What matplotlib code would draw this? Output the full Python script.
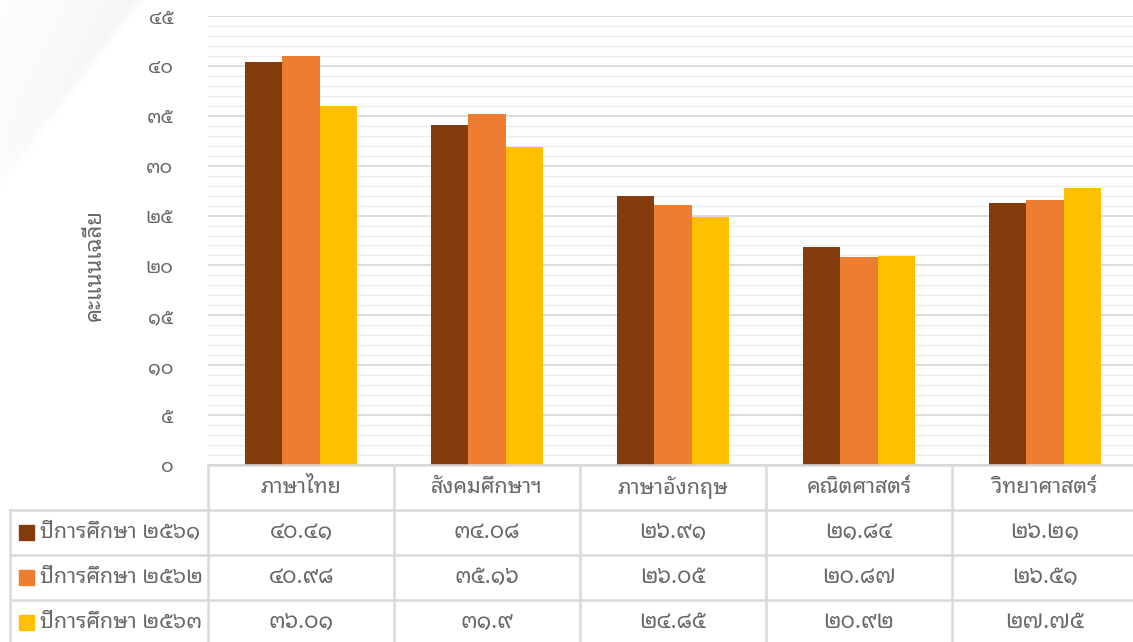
import numpy as np
import matplotlib
matplotlib.use("Agg")
import matplotlib.pyplot as plt
from matplotlib import font_manager
from matplotlib.ft2font import FT2Font

# Data
subjects = ["ภาษาไทย", "สังคมศึกษาฯ", "ภาษาอังกฤษ", "คณิตศาสตร์", "วิทยาศาสตร์"]
years = ["ปีการศึกษา ๒๕๖๑", "ปีการศึกษา ๒๕๖๒", "ปีการศึกษา ๒๕๖๓"]
y2561 = [40.41, 34.08, 26.91, 21.84, 26.21]
y2562 = [40.98, 35.16, 26.05, 20.87, 26.51]
y2563 = [36.01, 31.9, 24.85, 20.92, 27.75]
series = [y2561, y2562, y2563]
colors = ["#843C0C", "#ED7D31", "#FFC000"]
ylabel = "คะแนนเฉลี่ย"

THAI_DIGITS = str.maketrans("0123456789", "๐๑๒๓๔๕๖๗๘๙")


def thai_num(v):
    return f"{v:g}".translate(THAI_DIGITS)


# find an installed font that can draw Thai
def find_thai_family():
    found = []
    for f in font_manager.fontManager.ttflist:
        try:
            cm = FT2Font(f.fname).get_charmap()
        except Exception:
            continue
        if 0x0E01 in cm and 0x0E51 in cm:
            found.append(f.name)
    if not found:
        return []
    pref = ["Noto Sans Thai Looped", "Noto Sans Thai", "Loma", "Garuda", "Tlwg"]
    for p in pref:
        for n in found:
            if n.startswith(p):
                return [n]
    return [found[0]]


plt.rcParams["font.family"] = find_thai_family() + ["DejaVu Sans"]
plt.rcParams["font.weight"] = "light"
TXT = "#686868"
GRID = "#d9d9d9"

W, H = 1133, 642
fig = plt.figure(figsize=(W / 100, H / 100), dpi=100)
fig.patch.set_facecolor("white")

# decorative soft page shadow in the top-left corner (drawn first, behind all)
bg = fig.add_axes([0, 0, 1, 1])
bg.axis("off")
yy, xx = np.mgrid[0:220, 0:200].astype(float)
s = xx / 145 + yy / 190 - 1
dist = -s * 114
shade = np.where(dist > 0, 0.045 * np.exp(-dist / 60) * np.clip(dist / 10, 0, 1), 0)
shade *= np.clip(1 - yy / 200, 0, 1) ** 0.5
img = np.repeat((1 - shade)[..., None], 3, axis=2)
bg.imshow(img, extent=[0, 200, 220, 0], interpolation="bilinear", zorder=0)
bg.set_xlim(0, W)
bg.set_ylim(H, 0)

# main plot area (pixel layout)
x0, ybase, ytop = 208, 465, 16
colw = 186
ax = fig.add_axes([x0 / W, (H - ybase) / H, colw * 5 / W, (ybase - ytop) / H])
ax.set_facecolor("none")
n = len(subjects)
x = np.arange(n)
bw = 0.2
for i, (vals, c) in enumerate(zip(series, colors)):
    ax.bar(x + (i - 1) * bw, vals, width=bw, color=c, zorder=3, label=years[i])

ax.set_xlim(-0.5, n - 0.5)
ax.set_ylim(0, 45)
ax.set_yticks(np.arange(0, 46, 5))
ax.set_yticks(np.arange(0, 46, 1), minor=True)
ax.set_yticklabels([thai_num(v) for v in np.arange(0, 46, 5)], fontsize=14, color=TXT)
ax.tick_params(axis="y", which="both", length=0, pad=25)
ax.set_xticks([])
ax.grid(axis="y", which="major", color=GRID, lw=1.3, zorder=0)
ax.grid(axis="y", which="minor", color="#eeeeee", lw=1.0, zorder=0)
for sp in ax.spines.values():
    sp.set_visible(False)
fig.text(95 / W, 1 - 265 / H, ylabel, rotation=90, ha="center", va="center",
         fontsize=16, color=TXT)

# data table below the plot
tb = fig.add_axes([0, 0, 1, 1])
tb.set_xlim(0, W)
tb.set_ylim(H, 0)
tb.axis("off")
rows = [465, 510, 555, 600, 645]
lw = 1.8
tb.plot([x0, W], [rows[0], rows[0]], color=GRID, lw=lw)
for r in rows[1:]:
    tb.plot([10, W], [r, r], color=GRID, lw=lw)
tb.plot([10, 10], [rows[1], H], color=GRID, lw=lw)
for j in range(n + 1):
    tb.plot([x0 + j * colw] * 2, [rows[0], H], color=GRID, lw=lw)
for j, name in enumerate(subjects):
    tb.text(x0 + (j + 0.5) * colw, (rows[0] + rows[1]) / 2, name, ha="center",
            va="center", fontsize=15.5, color=TXT)
for i, vals in enumerate(series):
    ymid = (rows[i + 1] + rows[i + 2]) / 2
    tb.add_patch(plt.Rectangle((19, ymid - 8), 15, 15, color=colors[i]))
    tb.text(40, ymid, years[i], ha="left", va="center", fontsize=15.5, color=TXT)
    for j, v in enumerate(vals):
        tb.text(x0 + (j + 0.5) * colw, ymid, thai_num(v), ha="center",
                va="center", fontsize=16, color=TXT)

fig.savefig("out.png", dpi=100)
